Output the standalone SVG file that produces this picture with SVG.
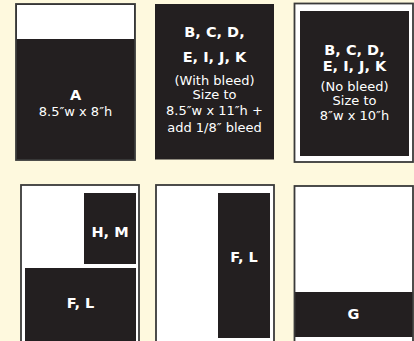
<svg xmlns="http://www.w3.org/2000/svg" width="414" height="341" viewBox="0 0 414 341">
<style>
.dark{fill:#231f20}
.white{fill:#ffffff}
.frame{fill:none;stroke:#3a3a3a;stroke-width:1.8}
.hd{font-family:"DejaVu Sans","Liberation Sans",sans-serif;font-weight:bold;font-size:14.5px;fill:#ffffff;text-anchor:middle}
.tx{font-family:"DejaVu Sans","Liberation Sans",sans-serif;font-size:13px;fill:#ffffff;text-anchor:middle}
</style>
<rect x="0" y="0" width="414" height="341" fill="#fef9de"/>
<g id="panel-a">
  <rect class="dark" x="16" y="4" width="119" height="156"/>
  <rect class="white" x="17" y="5" width="117" height="34"/>
  <rect class="frame" x="16" y="4" width="119" height="156"/>
  <text class="hd" x="75.5" y="100" font-size="16.5">A</text>
  <text class="tx" x="75.5" y="116" font-size="16">8.5″w x 8″h</text>
</g>
<g id="panel-b">
  <rect class="dark" x="155" y="4" width="119" height="155.5"/>
  <text class="hd" x="214.5" y="37">B, C, D,</text>
  <text class="hd" x="214.5" y="62">E, I, J, K</text>
  <text class="tx" x="214.5" y="84.5">(With bleed)</text>
  <text class="tx" x="214.5" y="99">Size to</text>
  <text class="tx" x="214.5" y="115">8.5″w x 11″h +</text>
  <text class="tx" x="214.5" y="132">add 1/8″ bleed</text>
</g>
<g id="panel-c">
  <rect class="white" x="294.5" y="3.5" width="119" height="158.5"/>
  <rect class="frame" x="294.5" y="3.5" width="118.5" height="158.5"/>
  <rect class="dark" x="300" y="11" width="109" height="145"/>
  <text class="hd" x="354.5" y="55">B, C, D,</text>
  <text class="hd" x="354.5" y="71">E, I, J, K</text>
  <text class="tx" x="354.5" y="90.5">(No bleed)</text>
  <text class="tx" x="354.5" y="105">Size to</text>
  <text class="tx" x="354.5" y="119.5">8″w x 10″h</text>
</g>
<g id="panel-fl-hm">
  <rect class="white" x="21" y="185" width="118" height="160"/>
  <rect class="frame" x="21" y="185" width="118" height="160"/>
  <rect class="dark" x="84" y="193" width="52" height="71"/>
  <rect class="dark" x="25" y="268" width="111" height="77"/>
  <text class="hd" x="110" y="237">H, M</text>
  <text class="hd" x="80.5" y="308">F, L</text>
</g>
<g id="panel-fl">
  <rect class="white" x="156" y="185" width="118" height="160"/>
  <rect class="frame" x="156" y="185" width="118" height="160"/>
  <rect class="dark" x="218" y="193" width="52" height="145"/>
  <text class="hd" x="244" y="262">F, L</text>
</g>
<g id="panel-g">
  <rect class="white" x="294.5" y="186" width="118.5" height="160"/>
  <rect class="dark" x="294.5" y="292" width="118.5" height="45"/>
  <rect class="frame" x="294.5" y="186" width="118.5" height="160"/>
  <text class="hd" x="353.5" y="319">G</text>
</g>
</svg>
